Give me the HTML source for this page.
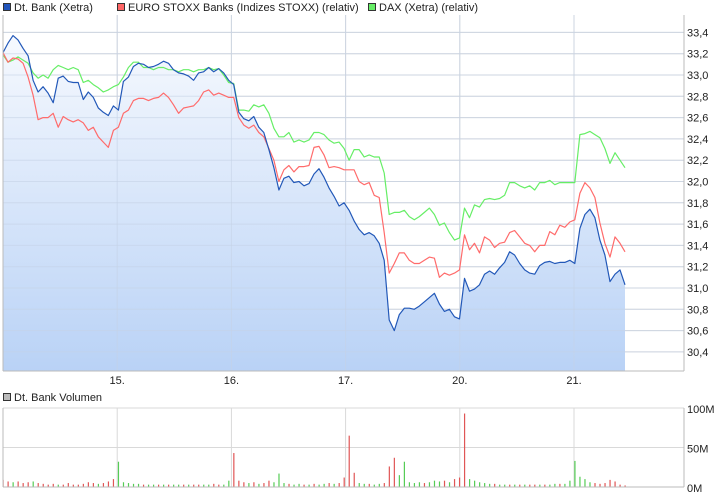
<!DOCTYPE html>
<html><head><meta charset="utf-8"><style>
body{margin:0;background:#fff;font-family:"Liberation Sans",sans-serif;}
svg text{font-family:"Liberation Sans",sans-serif;font-size:11px;fill:#222;}
</style></head><body>
<svg id="c" width="726" height="496" viewBox="0 0 726 496">
<defs><linearGradient id="fg" x1="0" y1="0" x2="0" y2="1"><stop offset="0" stop-color="#f6f9fe"/><stop offset="1" stop-color="#b9d2f6"/></linearGradient></defs>
<g>
<rect x="3.5" y="3.5" width="7" height="7" fill="#2255bb" stroke="#333"/>
<text x="14" y="11">Dt. Bank (Xetra)</text>
<rect x="117.5" y="3.5" width="7" height="7" fill="#ff6666" stroke="#333"/>
<text x="128" y="11">EURO STOXX Banks (Indizes STOXX) (relativ)</text>
<rect x="368.5" y="3.5" width="7" height="7" fill="#66ee66" stroke="#333"/>
<text x="379" y="11">DAX (Xetra) (relativ)</text>
<rect x="3.5" y="393.5" width="7" height="7" fill="#bbb" stroke="#333"/>
<text x="14" y="401">Dt. Bank Volumen</text>
</g>
<g id="grid"></g><g id="marks"></g><g id="axes"></g>
</svg>
<script>
const dtBank=[33.21,33.30,33.37,33.33,33.25,33.18,32.95,32.84,32.89,32.83,32.74,32.97,32.99,32.94,32.93,32.93,32.77,32.84,32.79,32.69,32.65,32.62,32.71,32.67,32.94,32.98,33.08,33.11,33.10,33.07,33.08,33.10,33.13,33.11,33.05,33.02,33.01,32.99,32.95,33.02,33.03,33.07,33.03,33.06,33.02,32.95,32.91,32.65,32.59,32.57,32.61,32.51,32.46,32.30,32.13,31.92,32.03,32.05,31.99,32.00,31.96,31.98,32.07,32.12,32.04,31.94,31.86,31.77,31.80,31.73,31.63,31.55,31.50,31.52,31.49,31.42,31.26,30.70,30.60,30.75,30.81,30.81,30.80,30.83,30.87,30.91,30.95,30.85,30.78,30.80,30.73,30.71,31.09,30.97,30.99,31.03,31.13,31.16,31.13,31.19,31.24,31.34,31.31,31.23,31.17,31.14,31.13,31.21,31.24,31.25,31.23,31.24,31.24,31.26,31.23,31.56,31.69,31.74,31.66,31.45,31.31,31.06,31.13,31.17,31.03];
const euroStoxx=[33.21,33.12,33.16,33.15,33.11,32.98,32.81,32.58,32.60,32.60,32.64,32.51,32.61,32.58,32.56,32.58,32.55,32.48,32.51,32.42,32.37,32.32,32.48,32.51,32.64,32.67,32.76,32.78,32.78,32.76,32.78,32.79,32.83,32.79,32.72,32.64,32.69,32.70,32.71,32.76,32.84,32.86,32.81,32.83,32.81,32.79,32.79,32.60,32.53,32.50,32.53,32.46,32.42,32.31,32.20,32.00,32.11,32.15,32.09,32.14,32.14,32.15,32.32,32.33,32.25,32.13,32.14,32.13,32.11,32.11,32.11,32.00,31.97,31.99,31.87,31.85,31.52,31.14,31.23,31.33,31.33,31.26,31.23,31.23,31.26,31.29,31.28,31.10,31.14,31.12,31.14,31.17,31.50,31.36,31.42,31.33,31.48,31.45,31.38,31.42,31.43,31.52,31.54,31.48,31.42,31.40,31.34,31.40,31.40,31.53,31.50,31.59,31.57,31.62,31.64,31.89,31.99,31.94,31.85,31.61,31.42,31.29,31.48,31.42,31.34];
const dax=[33.19,33.12,33.14,33.17,33.14,33.11,33.02,32.97,33.00,32.97,33.05,33.09,33.07,33.05,33.07,33.05,32.93,32.95,32.91,32.88,32.84,32.86,32.89,32.91,32.98,33.07,33.12,33.12,33.07,33.07,33.05,33.07,33.07,33.05,33.05,33.03,33.05,33.05,33.03,33.05,33.05,33.07,33.05,33.06,33.00,32.93,32.92,32.67,32.67,32.66,32.72,32.70,32.72,32.64,32.50,32.42,32.42,32.46,32.37,32.39,32.37,32.39,32.46,32.46,32.44,32.39,32.36,32.37,32.31,32.20,32.30,32.30,32.23,32.25,32.23,32.23,32.08,31.69,31.71,31.71,31.73,31.67,31.64,31.67,31.71,31.75,31.69,31.59,31.61,31.52,31.45,31.47,31.75,31.66,31.78,31.76,31.83,31.84,31.83,31.84,31.87,31.99,31.99,31.96,31.94,31.96,31.92,31.99,31.99,32.01,31.97,31.99,31.99,31.99,31.99,32.44,32.45,32.47,32.44,32.41,32.31,32.17,32.27,32.20,32.13];
const volume=[9,7,6,7,5,6,7,5,4,3,4,3,3,5,3,3,4,6,5,4,5,7,10,32,6,5,4,4,3,3,3,3,3,3,3,3,3,3,3,3,3,3,4,3,3,8,43,8,6,5,6,4,5,8,6,17,5,4,3,4,3,3,4,3,4,5,4,5,12,65,18,5,4,4,3,4,5,26,37,15,32,6,5,6,5,6,8,7,8,6,10,12,93,10,8,6,5,4,4,3,3,3,3,3,3,3,3,3,3,3,4,4,4,8,33,13,10,6,5,4,5,9,7,3,2];
const volumeDir=[-1,-1,1,-1,-1,-1,1,-1,-1,-1,-1,1,-1,-1,-1,-1,-1,-1,-1,1,-1,-1,-1,1,1,1,1,1,-1,1,1,-1,1,-1,1,1,-1,1,-1,-1,1,1,-1,-1,1,1,-1,-1,-1,1,-1,1,-1,-1,1,1,1,-1,1,1,-1,1,-1,1,1,-1,1,-1,-1,-1,-1,1,1,-1,1,1,-1,-1,-1,1,1,1,1,1,-1,1,1,1,-1,1,-1,-1,-1,1,1,1,1,1,-1,1,1,-1,1,-1,1,-1,-1,1,-1,1,1,-1,1,1,1,1,1,1,-1,-1,-1,-1,-1,-1,-1];
const yTicks=[30.4,30.6,30.8,31.0,31.2,31.4,31.6,31.8,32.0,32.2,32.4,32.6,32.8,33.0,33.2,33.4];
const xDays=["15.","16.","17.","20.","21."];
const xDayPos=[1,2,3,4,5];
const volTicks=[0,50,100];
const volTickLabels=["0M","50M","100M"];

const NS="http://www.w3.org/2000/svg";
const L=3,R=684,T=15,B=371,VT=408,VB=487;
const X0=3,X1=625,DAY=114.2,D0=3;
const xi=i=>X0+i*(X1-X0)/(dtBank.length-1);
const yv=v=>288-(v-31)*106.5;
const xd=d=>D0+d*DAY;
const vy=m=>VB-m*(VB-VT)/100;
function mk(tag,at,parent){const e=document.createElementNS(NS,tag);for(const k in at)e.setAttribute(k,at[k]);document.getElementById(parent).appendChild(e);return e;}

let e=mk('rect',{x:L,y:T,width:R-L,height:B-T,fill:'#fff',stroke:'none'},'grid');


yTicks.forEach(v=>{const l=mk('line',{x1:L,x2:R,y1:yv(v),y2:yv(v),stroke:'#d9d9d9'},'grid');

});
xDayPos.forEach(d=>{const l=mk('line',{x1:xd(d),x2:xd(d),y1:T,y2:B,stroke:'#d9d9d9'},'grid');


const l2=mk('line',{x1:xd(d),x2:xd(d),y1:VT,y2:VB,stroke:'#d9d9d9'},'grid');

});
volTicks.forEach(m=>{const l=mk('line',{x1:L,x2:R,y1:vy(m),y2:vy(m),stroke:'#d9d9d9'},'grid');

});

let d='M'+xi(0)+','+B;dtBank.forEach((v,i)=>d+=' L'+xi(i).toFixed(1)+','+yv(v).toFixed(1));d+=' L'+xi(dtBank.length-1)+','+B+'Z';
e=mk('path',{d:d,fill:'url(#fg)',stroke:'none'},'marks');


xDayPos.forEach(dd=>{const l=mk('line',{x1:xd(dd),x2:xd(dd),y1:T,y2:B,stroke:'#c5d2e6','stroke-opacity':0.6},'marks');

});
yTicks.forEach(v=>{const l=mk('line',{x1:L,x2:R,y1:yv(v),y2:yv(v),stroke:'#c5d2e6','stroke-opacity':0.6},'marks');

});

function line(arr,col,name){let p='';arr.forEach((v,i)=>p+=(i?' L':'M')+xi(i).toFixed(1)+','+yv(v).toFixed(1));
const el=mk('path',{d:p,fill:'none',stroke:col,'stroke-width':1.2,'stroke-linejoin':'round'},'marks');

}
line(dax,'#66ee66','dax-line');
line(euroStoxx,'#ff6b6b','euro-stoxx-line');
line(dtBank,'#2258b8','dt-bank-line');

volume.forEach((m,i)=>{const up=volumeDir[i]>0;
const b=mk('rect',{x:xi(i)-0.5,y:vy(m),width:1.2,height:VB-vy(m),fill:up?'#55cc55':'#e05555'},'marks');

});

[[L,T,L,B],[R,T,R,B],[L,B,R,B],[L,VT,L,VB],[R,VT,R,VB],[L,VB,R,VB]].forEach(a=>{const l=mk('line',{x1:a[0],y1:a[1],x2:a[2],y2:a[3],stroke:'#bbb'},'axes');

});
yTicks.forEach(v=>{const t=mk('text',{x:687,y:yv(v)+4},'axes');t.textContent=v.toFixed(1).replace('.',',');

});
xDays.forEach((s,k)=>{const t=mk('text',{x:xd(xDayPos[k]),y:384,'text-anchor':'middle'},'axes');t.textContent=s;

});
volTicks.forEach((m,k)=>{const t=mk('text',{x:687,y:vy(m)+5},'axes');t.textContent=volTickLabels[k];

});
</script>
</body></html>
